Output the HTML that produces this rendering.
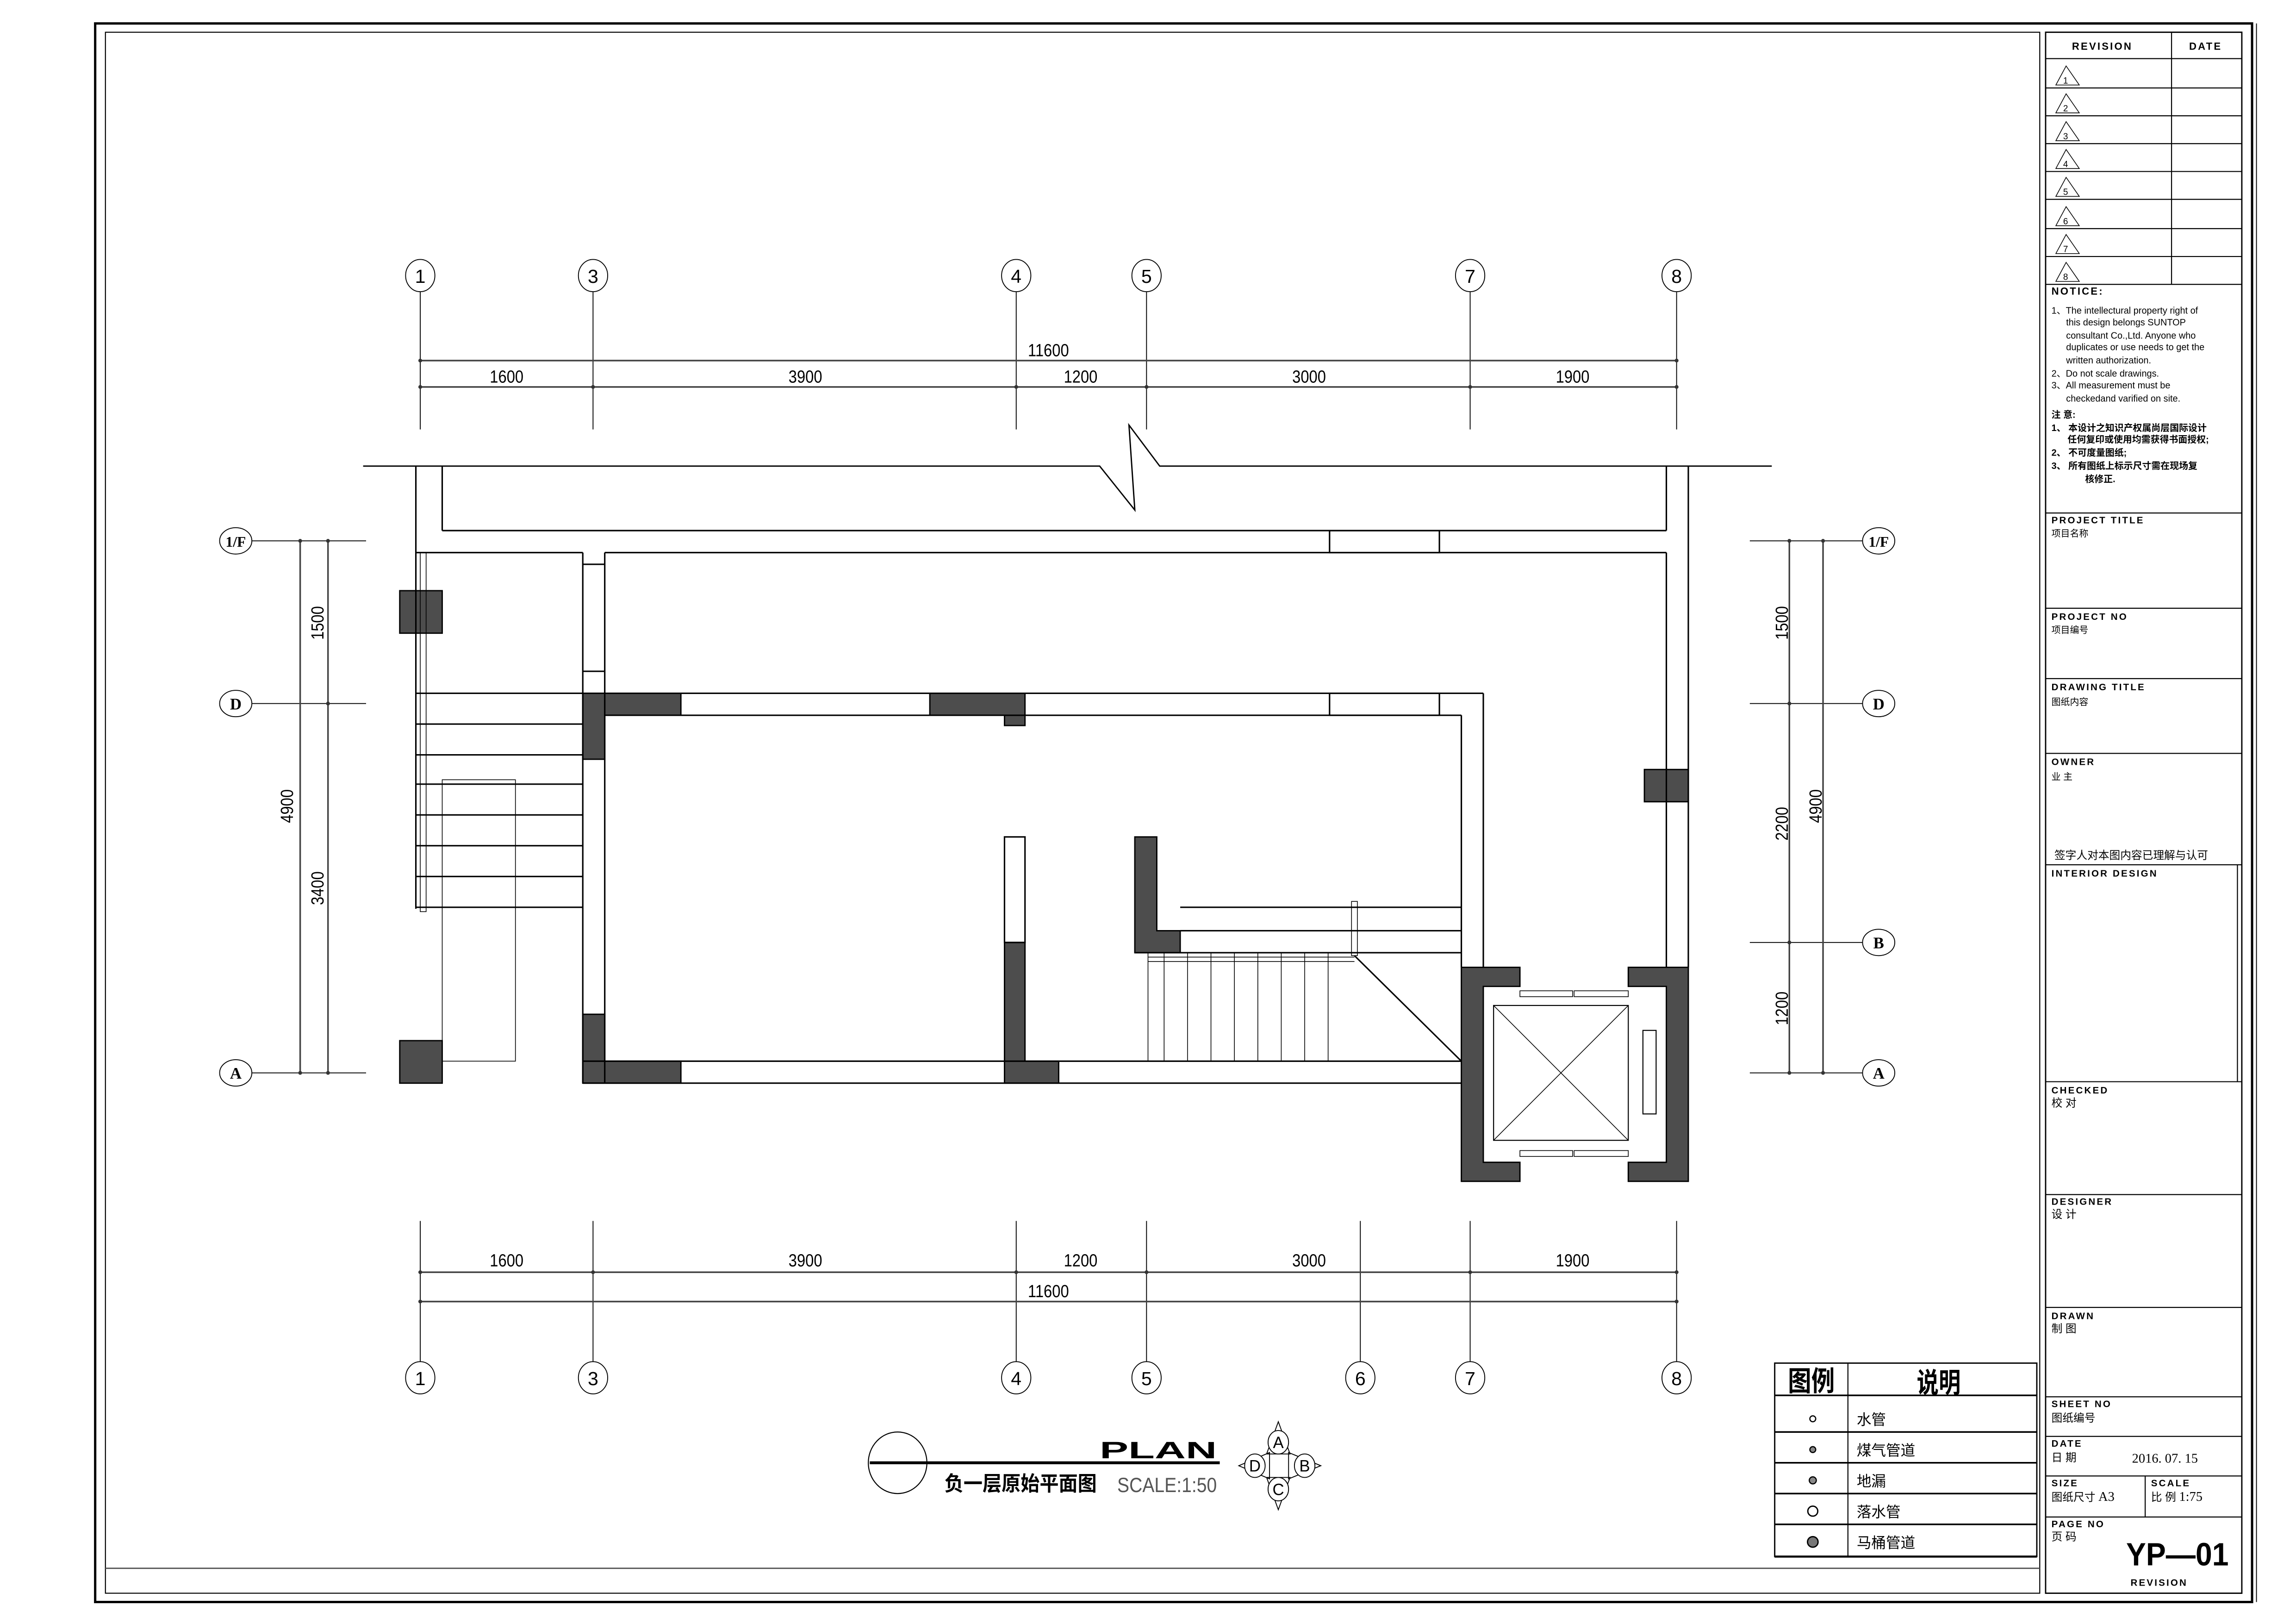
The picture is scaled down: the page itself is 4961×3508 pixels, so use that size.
<!DOCTYPE html>
<html><head><meta charset="utf-8"><style>
html,body{margin:0;padding:0;background:#fff}
svg{display:block}
.s{font-family:"Liberation Sans","Noto Sans CJK SC",sans-serif}
.t{font-family:"Liberation Sans","Noto Sans CJK SC",sans-serif;font-weight:bold}
.sf{font-family:"Liberation Serif","Noto Serif CJK SC",serif;font-weight:bold}
</style></head><body>
<svg width="4961" height="3508" viewBox="0 0 1568 1108" preserveAspectRatio="none" xmlns="http://www.w3.org/2000/svg">
<rect width="1568" height="1108" fill="#fff"/>
<!-- frames -->
<rect x="65" y="16" width="1473" height="1077" fill="none" stroke="#000" stroke-width="1.6"/>
<line x1="1541" y1="16" x2="1541" y2="1093" stroke="#000" stroke-width="0.6"/>
<rect x="72" y="22" width="1321" height="1065" fill="none" stroke="#000" stroke-width="0.7"/>
<line x1="72" y1="1070" x2="1393" y2="1070" stroke="#555" stroke-width="0.9"/>

<!-- title block -->
<g stroke="#000" stroke-width="0.7" fill="none">
<rect x="1397" y="22" width="134" height="1065" stroke-width="0.9"/>
<line x1="1483" y1="22" x2="1483" y2="194"/>
<line x1="1397" y1="40" x2="1531" y2="40"/>
<line x1="1397" y1="60" x2="1531" y2="60"/>
<line x1="1397" y1="79" x2="1531" y2="79"/>
<line x1="1397" y1="98" x2="1531" y2="98"/>
<line x1="1397" y1="117" x2="1531" y2="117"/>
<line x1="1397" y1="136" x2="1531" y2="136"/>
<line x1="1397" y1="156" x2="1531" y2="156"/>
<line x1="1397" y1="175" x2="1531" y2="175"/>
<line x1="1397" y1="194" x2="1531" y2="194"/>
<line x1="1397" y1="350" x2="1531" y2="350"/>
<line x1="1397" y1="415" x2="1531" y2="415"/>
<line x1="1397" y1="463" x2="1531" y2="463"/>
<line x1="1397" y1="514" x2="1531" y2="514"/>
<line x1="1397" y1="590" x2="1531" y2="590"/>
<line x1="1528" y1="590" x2="1528" y2="738"/>
<line x1="1397" y1="738" x2="1531" y2="738"/>
<line x1="1397" y1="815" x2="1531" y2="815"/>
<line x1="1397" y1="892" x2="1531" y2="892"/>
<line x1="1397" y1="953" x2="1531" y2="953"/>
<line x1="1397" y1="980" x2="1531" y2="980"/>
<line x1="1397" y1="1007" x2="1531" y2="1007"/>
<line x1="1465" y1="1007" x2="1465" y2="1035"/>
<line x1="1397" y1="1035" x2="1531" y2="1035"/>
</g>
<g class="t" font-size="7" fill="#000" letter-spacing="1">
<text x="1415" y="34">REVISION</text>
<text x="1495" y="34">DATE</text>
<text x="1401" y="201">NOTICE:</text>
<text x="1401" y="357" font-size="6.5">PROJECT TITLE</text>
<text x="1401" y="423" font-size="6.5">PROJECT NO</text>
<text x="1401" y="471" font-size="6.5">DRAWING TITLE</text>
<text x="1401" y="522" font-size="6.5">OWNER</text>
<text x="1401" y="598" font-size="6.5">INTERIOR DESIGN</text>
<text x="1401" y="746" font-size="6.5">CHECKED</text>
<text x="1401" y="822" font-size="6.5">DESIGNER</text>
<text x="1401" y="900" font-size="6.5">DRAWN</text>
<text x="1401" y="960" font-size="6.5">SHEET NO</text>
<text x="1401" y="987" font-size="6.5">DATE</text>
<text x="1401" y="1014" font-size="6.5">SIZE</text>
<text x="1469" y="1014" font-size="6.5">SCALE</text>
<text x="1401" y="1042" font-size="6.5">PAGE NO</text>
<text x="1455" y="1082" font-size="6.5">REVISION</text>
</g>
<text x="1452" y="1068" class="t" font-size="22" textLength="70" lengthAdjust="spacingAndGlyphs">YP—01</text>
<g stroke="#000" stroke-width="0.5" fill="none">
<path d="M1404 58 L1411 45 L1420 58 Z"/><path d="M1404 77 L1411 64 L1420 77 Z"/>
<path d="M1404 96 L1411 83 L1420 96 Z"/><path d="M1404 115 L1411 102 L1420 115 Z"/>
<path d="M1404 134 L1411 121 L1420 134 Z"/><path d="M1404 154 L1411 141 L1420 154 Z"/>
<path d="M1404 173 L1411 160 L1420 173 Z"/><path d="M1404 192 L1411 179 L1420 192 Z"/>
</g>
<g class="s" font-size="6" fill="#000">
<text x="1409" y="57">1</text><text x="1409" y="76">2</text><text x="1409" y="95">3</text><text x="1409" y="114">4</text>
<text x="1409" y="133">5</text><text x="1409" y="153">6</text><text x="1409" y="172">7</text><text x="1409" y="191">8</text>
</g>
<g class="s" font-size="6.3" fill="#000">
<text x="1401" y="214">1、The intellectural property right of</text>
<text x="1411" y="222">this design belongs SUNTOP</text>
<text x="1411" y="231">consultant Co.,Ltd. Anyone who</text>
<text x="1411" y="239">duplicates or use needs to get the</text>
<text x="1411" y="248">written authorization.</text>
<text x="1401" y="257">2、Do not scale drawings.</text>
<text x="1401" y="265">3、All measurement must be</text>
<text x="1411" y="274">checkedand varified on site.</text>
<text x="1401" y="285" font-weight="bold">注  意:</text>
<text x="1401" y="294" font-weight="bold">1、 本设计之知识产权属尚层国际设计</text>
<text x="1412" y="302" font-weight="bold">任何复印或使用均需获得书面授权;</text>
<text x="1401" y="311" font-weight="bold">2、 不可度量图纸;</text>
<text x="1401" y="320" font-weight="bold">3、 所有图纸上标示尺寸需在现场复</text>
<text x="1424" y="329" font-weight="bold">核修正.</text>
<text x="1401" y="366">项目名称</text>
<text x="1401" y="432">项目编号</text>
<text x="1401" y="481">图纸内容</text>
<text x="1401" y="532">业    主</text>
<text x="1403" y="586" font-size="7.5">签字人对本图内容已理解与认可</text>
<text x="1401" y="755" font-size="7.5">校      对</text>
<text x="1401" y="831" font-size="7.5">设      计</text>
<text x="1401" y="909" font-size="7.5">制      图</text>
<text x="1401" y="970" font-size="7.5">图纸编号</text>
<text x="1401" y="997" font-size="7.5">日      期</text>
<text x="1456" y="998" font-size="9" font-family="Liberation Serif">2016. 07. 15</text>
<text x="1401" y="1024" font-size="7.5">图纸尺寸  <tspan font-family="Liberation Serif" font-size="9">A3</tspan></text>
<text x="1469" y="1024" font-size="7.5">比   例  <tspan font-family="Liberation Serif" font-size="9">1:75</tspan></text>
<text x="1401" y="1051" font-size="7.5">页      码</text>
</g>

<!-- dimension grid -->
<g stroke="#000" stroke-width="0.6" fill="none">
<!-- column axes top -->
<line x1="287" y1="199" x2="287" y2="293"/><line x1="405" y1="199" x2="405" y2="293"/>
<line x1="694" y1="199" x2="694" y2="293"/><line x1="783" y1="199" x2="783" y2="293"/>
<line x1="1004" y1="199" x2="1004" y2="293"/><line x1="1145" y1="199" x2="1145" y2="293"/>
<!-- bottom -->
<line x1="287" y1="833" x2="287" y2="929"/><line x1="405" y1="833" x2="405" y2="929"/>
<line x1="694" y1="833" x2="694" y2="929"/><line x1="783" y1="833" x2="783" y2="929"/>
<line x1="929" y1="833" x2="929" y2="929"/>
<line x1="1004" y1="833" x2="1004" y2="929"/><line x1="1145" y1="833" x2="1145" y2="929"/>
<!-- rows -->
<line x1="172" y1="369" x2="250" y2="369"/><line x1="172" y1="480" x2="250" y2="480"/><line x1="172" y1="732" x2="250" y2="732"/>
<line x1="1195" y1="369" x2="1272" y2="369"/><line x1="1195" y1="480" x2="1272" y2="480"/>
<line x1="1195" y1="643" x2="1272" y2="643"/><line x1="1195" y1="732" x2="1272" y2="732"/>
<!-- bubbles -->
<ellipse cx="287" cy="188" rx="10" ry="11"/><ellipse cx="405" cy="188" rx="10" ry="11"/>
<ellipse cx="694" cy="188" rx="10" ry="11"/><ellipse cx="783" cy="188" rx="10" ry="11"/>
<ellipse cx="1004" cy="188" rx="10" ry="11"/><ellipse cx="1145" cy="188" rx="10" ry="11"/>
<ellipse cx="287" cy="940" rx="10" ry="11"/><ellipse cx="405" cy="940" rx="10" ry="11"/>
<ellipse cx="694" cy="940" rx="10" ry="11"/><ellipse cx="783" cy="940" rx="10" ry="11"/>
<ellipse cx="929" cy="940" rx="10" ry="11"/>
<ellipse cx="1004" cy="940" rx="10" ry="11"/><ellipse cx="1145" cy="940" rx="10" ry="11"/>
<ellipse cx="161" cy="369" rx="11" ry="9"/><ellipse cx="161" cy="480" rx="11" ry="9"/><ellipse cx="161" cy="732" rx="11" ry="9"/>
<ellipse cx="1283" cy="369" rx="11" ry="9"/><ellipse cx="1283" cy="480" rx="11" ry="9"/>
<ellipse cx="1283" cy="643" rx="11" ry="9"/><ellipse cx="1283" cy="732" rx="11" ry="9"/>
</g>
<g stroke="#444" stroke-width="1.1">
<line x1="287" y1="246" x2="1145" y2="246"/><line x1="287" y1="264" x2="1145" y2="264"/>
<line x1="287" y1="868" x2="1145" y2="868"/><line x1="287" y1="888" x2="1145" y2="888"/>
<line x1="205" y1="369" x2="205" y2="732"/><line x1="224" y1="369" x2="224" y2="732"/>
<line x1="1222" y1="369" x2="1222" y2="732"/><line x1="1245" y1="369" x2="1245" y2="732"/>
</g>
<g fill="#333">
<circle cx="287" cy="246" r="1.3"/><circle cx="1145" cy="246" r="1.3"/>
<circle cx="287" cy="264" r="1.3"/><circle cx="405" cy="264" r="1.3"/><circle cx="694" cy="264" r="1.3"/><circle cx="783" cy="264" r="1.3"/><circle cx="1004" cy="264" r="1.3"/><circle cx="1145" cy="264" r="1.3"/>
<circle cx="287" cy="868" r="1.3"/><circle cx="405" cy="868" r="1.3"/><circle cx="694" cy="868" r="1.3"/><circle cx="783" cy="868" r="1.3"/><circle cx="1004" cy="868" r="1.3"/><circle cx="1145" cy="868" r="1.3"/>
<circle cx="287" cy="888" r="1.3"/><circle cx="1145" cy="888" r="1.3"/>
<circle cx="205" cy="369" r="1.3"/><circle cx="205" cy="732" r="1.3"/><circle cx="224" cy="369" r="1.3"/><circle cx="224" cy="480" r="1.3"/><circle cx="224" cy="732" r="1.3"/>
<circle cx="1222" cy="369" r="1.3"/><circle cx="1222" cy="480" r="1.3"/><circle cx="1222" cy="643" r="1.3"/><circle cx="1222" cy="732" r="1.3"/>
<circle cx="1245" cy="369" r="1.3"/><circle cx="1245" cy="732" r="1.3"/>
</g>
<g class="s" font-size="12" fill="#000" text-anchor="middle">
<text x="287" y="193" font-size="13">1</text><text x="405" y="193" font-size="13">3</text><text x="694" y="193" font-size="13">4</text>
<text x="783" y="193" font-size="13">5</text><text x="1004" y="193" font-size="13">7</text><text x="1145" y="193" font-size="13">8</text>
<text x="287" y="945" font-size="13">1</text><text x="405" y="945" font-size="13">3</text><text x="694" y="945" font-size="13">4</text>
<text x="783" y="945" font-size="13">5</text><text x="929" y="945" font-size="13">6</text><text x="1004" y="945" font-size="13">7</text><text x="1145" y="945" font-size="13">8</text>
<text x="716" y="243" textLength="28" lengthAdjust="spacingAndGlyphs">11600</text>
<text x="346" y="261" textLength="23" lengthAdjust="spacingAndGlyphs">1600</text>
<text x="550" y="261" textLength="23" lengthAdjust="spacingAndGlyphs">3900</text>
<text x="738" y="261" textLength="23" lengthAdjust="spacingAndGlyphs">1200</text>
<text x="894" y="261" textLength="23" lengthAdjust="spacingAndGlyphs">3000</text>
<text x="1074" y="261" textLength="23" lengthAdjust="spacingAndGlyphs">1900</text>
<text x="346" y="864" textLength="23" lengthAdjust="spacingAndGlyphs">1600</text>
<text x="550" y="864" textLength="23" lengthAdjust="spacingAndGlyphs">3900</text>
<text x="738" y="864" textLength="23" lengthAdjust="spacingAndGlyphs">1200</text>
<text x="894" y="864" textLength="23" lengthAdjust="spacingAndGlyphs">3000</text>
<text x="1074" y="864" textLength="23" lengthAdjust="spacingAndGlyphs">1900</text>
<text x="716" y="885" textLength="28" lengthAdjust="spacingAndGlyphs">11600</text>
<text transform="translate(200 550) rotate(-90)" textLength="23" lengthAdjust="spacingAndGlyphs">4900</text>
<text transform="translate(221 425) rotate(-90)" textLength="23" lengthAdjust="spacingAndGlyphs">1500</text>
<text transform="translate(221 606) rotate(-90)" textLength="23" lengthAdjust="spacingAndGlyphs">3400</text>
<text transform="translate(1221 425) rotate(-90)" textLength="23" lengthAdjust="spacingAndGlyphs">1500</text>
<text transform="translate(1221 562) rotate(-90)" textLength="23" lengthAdjust="spacingAndGlyphs">2200</text>
<text transform="translate(1221 688) rotate(-90)" textLength="23" lengthAdjust="spacingAndGlyphs">1200</text>
<text transform="translate(1244 550) rotate(-90)" textLength="23" lengthAdjust="spacingAndGlyphs">4900</text>
</g>
<g class="sf" font-size="11" fill="#000" text-anchor="middle">
<text x="161" y="373" font-size="10">1/F</text><text x="161" y="484">D</text><text x="161" y="736">A</text>
<text x="1283" y="373" font-size="10">1/F</text><text x="1283" y="484">D</text><text x="1283" y="647">B</text><text x="1283" y="736">A</text>
</g>

<!-- plan -->
<g fill="#4d4d4d" stroke="#000" stroke-width="0.9">
<rect x="273" y="403" width="29" height="29"/>
<rect x="273" y="710" width="29" height="29"/>
<path d="M398 473 H465 V488 H413 V518 H398 Z"/>
<path d="M635 473 H700 V495 H686 V488 H635 Z"/>
<path d="M398 692 H413 V724 H465 V739 H398 Z"/>
<path d="M686 643 H700 V724 H723 V739 H686 Z"/>
<path d="M775 571 H790 V635 H806 V650 H775 Z"/>
<rect x="1123" y="525" width="30" height="22"/>
<path d="M998 660 H1038 V673 H1013 V793 H1038 V806 H998 Z"/>
<path d="M1112 660 H1153 V806 H1112 V793 H1138 V673 H1112 Z"/>
</g>
<g stroke="#000" stroke-width="1" fill="none">
<path d="M248 318 H751 L775 348 L771 290 L792 318 H1210" stroke-width="0.9"/>
<line x1="284" y1="318" x2="284" y2="620"/>
<line x1="302" y1="318" x2="302" y2="362"/>
<line x1="302" y1="362" x2="1138" y2="362"/>
<line x1="284" y1="377" x2="398" y2="377"/>
<line x1="413" y1="377" x2="1138" y2="377"/>
<rect x="908" y="362" width="75" height="15"/>
<line x1="1138" y1="318" x2="1138" y2="362"/>
<line x1="1138" y1="377" x2="1138" y2="660"/>
<line x1="1153" y1="318" x2="1153" y2="660"/>
<line x1="398" y1="377" x2="398" y2="739"/>
<line x1="413" y1="377" x2="413" y2="739"/>
<line x1="398" y1="385" x2="413" y2="385"/>
<line x1="398" y1="458" x2="413" y2="458"/>
<line x1="398" y1="473" x2="1013" y2="473"/>
<line x1="413" y1="488" x2="998" y2="488"/>
<rect x="908" y="473" width="75" height="15"/>
<line x1="998" y1="488" x2="998" y2="660"/>
<line x1="1013" y1="473" x2="1013" y2="660"/>
<line x1="398" y1="724" x2="998" y2="724"/>
<line x1="398" y1="739" x2="998" y2="739"/>
<rect x="686" y="571" width="14" height="72"/>
<line x1="806" y1="619" x2="998" y2="619"/>
<line x1="806" y1="635" x2="998" y2="635"/>
<line x1="775" y1="650" x2="998" y2="650"/>
<line x1="925" y1="652" x2="998" y2="724"/>
<!-- left stair treads -->
<line x1="284" y1="473" x2="398" y2="473"/><line x1="284" y1="494" x2="398" y2="494"/>
<line x1="284" y1="515" x2="398" y2="515"/><line x1="284" y1="535" x2="398" y2="535"/>
<line x1="284" y1="556" x2="398" y2="556"/><line x1="284" y1="577" x2="398" y2="577"/>
<line x1="284" y1="598" x2="398" y2="598"/><line x1="284" y1="619" x2="398" y2="619"/>
</g>
<g stroke="#000" stroke-width="0.5" fill="none">
<rect x="302" y="532" width="50" height="192"/>
<rect x="287" y="377" width="4" height="245"/>
<rect x="923" y="615" width="4" height="37"/>
<line x1="784" y1="653" x2="925" y2="653"/><line x1="784" y1="656" x2="925" y2="656"/>
<line x1="784" y1="650" x2="784" y2="724"/>
<line x1="795" y1="650" x2="795" y2="724"/><line x1="811" y1="650" x2="811" y2="724"/>
<line x1="827" y1="650" x2="827" y2="724"/><line x1="843" y1="650" x2="843" y2="724"/>
<line x1="859" y1="650" x2="859" y2="724"/><line x1="875" y1="650" x2="875" y2="724"/>
<line x1="891" y1="650" x2="891" y2="724"/><line x1="907" y1="650" x2="907" y2="724"/>
<!-- elevator -->
<rect x="1020" y="686" width="92" height="92" stroke-width="0.7"/>
<line x1="1020" y1="686" x2="1112" y2="778"/><line x1="1112" y1="686" x2="1020" y2="778"/>
<rect x="1122" y="703" width="9" height="57" stroke-width="0.7"/>
<rect x="1038" y="676" width="36" height="4"/><rect x="1075" y="676" width="37" height="4"/>
<rect x="1038" y="785" width="36" height="4"/><rect x="1075" y="785" width="37" height="4"/>
</g>

<!-- title bottom -->
<ellipse cx="613" cy="998" rx="20" ry="21" fill="none" stroke="#000" stroke-width="0.7"/>
<line x1="594" y1="998" x2="833" y2="998" stroke="#000" stroke-width="2"/>
<text x="831" y="995" class="t" font-size="16" text-anchor="end" textLength="80" lengthAdjust="spacingAndGlyphs">PLAN</text>
<text x="645" y="1017" class="t" font-size="14" textLength="104" lengthAdjust="spacingAndGlyphs">负一层原始平面图</text>
<text x="763" y="1018" class="s" font-size="14" fill="#555" textLength="68" lengthAdjust="spacingAndGlyphs">SCALE:1:50</text>
<g stroke="#000" stroke-width="0.6" fill="none">
<path d="M873 970 L881 992 L865 992 Z"/><path d="M873 1030 L881 1008 L865 1008 Z"/>
<path d="M846 1000 L867 991 L867 1009 Z"/><path d="M902 1000 L880 991 L880 1009 Z"/>
<ellipse cx="873" cy="984" rx="7" ry="8" fill="#fff"/><ellipse cx="873" cy="1016" rx="7" ry="8" fill="#fff"/>
<ellipse cx="857" cy="1000" rx="7" ry="8" fill="#fff"/><ellipse cx="891" cy="1000" rx="7" ry="8" fill="#fff"/>
</g>
<g class="s" font-size="11" text-anchor="middle" fill="#000">
<text x="873" y="988">A</text><text x="873" y="1020">C</text><text x="857" y="1004">D</text><text x="891" y="1004">B</text>
</g>

<!-- legend -->
<g stroke="#000" fill="none">
<rect x="1212" y="930" width="179" height="132" stroke-width="0.9"/>
<line x1="1262" y1="930" x2="1262" y2="1062" stroke-width="0.7"/>
<line x1="1212" y1="952" x2="1391" y2="952" stroke-width="1.1"/>
<line x1="1212" y1="977" x2="1391" y2="977" stroke-width="1.1"/>
<line x1="1212" y1="998" x2="1391" y2="998" stroke-width="1.1"/>
<line x1="1212" y1="1019" x2="1391" y2="1019" stroke-width="1.1"/>
<line x1="1212" y1="1040" x2="1391" y2="1040" stroke-width="1.1"/>
<line x1="1212" y1="1062" x2="1391" y2="1062" stroke-width="1.4"/>
<circle cx="1238" cy="968" r="2" stroke-width="0.8"/>
<circle cx="1238" cy="989" r="2" fill="#888" stroke-width="0.8"/>
<circle cx="1238" cy="1010" r="2.4" fill="#888" stroke-width="0.8"/>
<circle cx="1238" cy="1031" r="3.4" stroke-width="0.9"/>
<circle cx="1238" cy="1052" r="3.6" fill="#777" stroke-width="0.9"/>
</g>
<g class="s" fill="#000">
<text x="1237" y="949" font-size="19" font-weight="bold" text-anchor="middle" textLength="32" lengthAdjust="spacingAndGlyphs">图例</text>
<text x="1324" y="950" font-size="19" font-weight="bold" text-anchor="middle" textLength="30" lengthAdjust="spacingAndGlyphs">说明</text>
<text x="1268" y="972" font-size="10">水管</text>
<text x="1268" y="993" font-size="10">煤气管道</text>
<text x="1268" y="1014" font-size="10">地漏</text>
<text x="1268" y="1035" font-size="10">落水管</text>
<text x="1268" y="1056" font-size="10">马桶管道</text>
</g>
</svg>
</body></html>
